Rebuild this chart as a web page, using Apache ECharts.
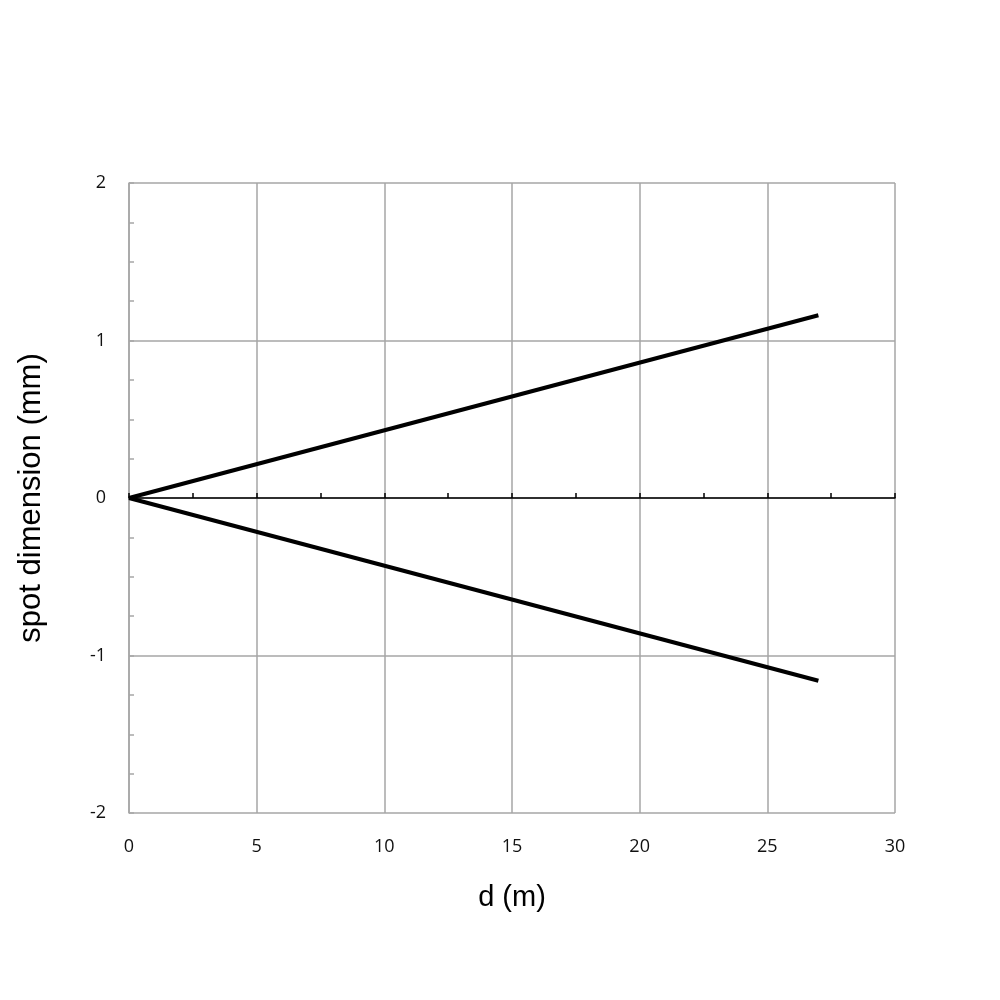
<!DOCTYPE html>
<html><head><meta charset="utf-8">
<script src="https://cdn.jsdelivr.net/npm/echarts@6/dist/echarts.min.js"></script>
<style>html,body{margin:0;padding:0;background:#fff}#c{width:1000px;height:1000px}</style>
</head><body><div id="c"></div>
<script>
const distances = [0, 27];
const upperEdge = [0, 1.16];
const lowerEdge = [0, -1.16];
const xTicks = [0, 5, 10, 15, 20, 25, 30];
const yTicks = [-2, -1, 0, 1, 2];

const chart = echarts.init(document.getElementById('c'));
const grey = '#a6a6a6';
const labelFont = { fontFamily: 'Open Sans', fontSize: 18, color: '#111' };
chart.setOption({
  backgroundColor: '#fff',
  animation: false,
  grid: { left: 129, right: 105, top: 183, bottom: 187 },
  xAxis: [{
    type: 'value', min: xTicks[0], max: xTicks[xTicks.length - 1], interval: 5,
    position: 'bottom',
    axisLine: { show: false, onZero: false },
    axisTick: { show: false },
    axisLabel: Object.assign({ margin: 25 }, labelFont),
    splitLine: { show: true, lineStyle: { color: grey, width: 1.5 } },
    name: 'd (m)', nameLocation: 'middle', nameGap: 70,
    nameTextStyle: { fontFamily: 'Liberation Sans', fontSize: 29, color: '#000' }
  }, {
    type: 'value', min: xTicks[0], max: xTicks[xTicks.length - 1], interval: 5,
    position: 'top',
    axisLine: { show: true, onZero: true, lineStyle: { color: '#000', width: 1.5 } },
    axisTick: { show: true, inside: false, length: 5, lineStyle: { color: '#000', width: 1.5 } },
    minorTick: { show: true, splitNumber: 2, length: 5, lineStyle: { color: '#000', width: 1.5 } },
    axisLabel: { show: false },
    splitLine: { show: false }
  }],
  yAxis: {
    type: 'value', min: yTicks[0], max: yTicks[yTicks.length - 1], interval: 1,
    axisLine: { show: true, onZero: false, lineStyle: { color: grey, width: 1.5 } },
    axisTick: { show: true, inside: true, length: 5, lineStyle: { color: grey, width: 1.5 } },
    minorTick: { show: true, splitNumber: 4, length: 5, lineStyle: { color: grey, width: 1.5 } },
    axisLabel: Object.assign({ margin: 23, padding: [6, 0, 0, 0] }, labelFont),
    splitLine: { show: true, lineStyle: { color: grey, width: 1.5 } },
    name: 'spot dimension (mm)', nameLocation: 'middle', nameGap: 82,
    nameTextStyle: { fontFamily: 'Liberation Sans', fontSize: 31, color: '#000' }
  },
  series: [{
    type: 'line', xAxisIndex: 0, showSymbol: false, symbol: 'none',
    data: distances.map((d, i) => [d, upperEdge[i]]),
    lineStyle: { color: '#000', width: 4 }
  }, {
    type: 'line', xAxisIndex: 0, showSymbol: false, symbol: 'none',
    data: distances.map((d, i) => [d, lowerEdge[i]]),
    lineStyle: { color: '#000', width: 4 }
  }]
});
</script></body></html>
